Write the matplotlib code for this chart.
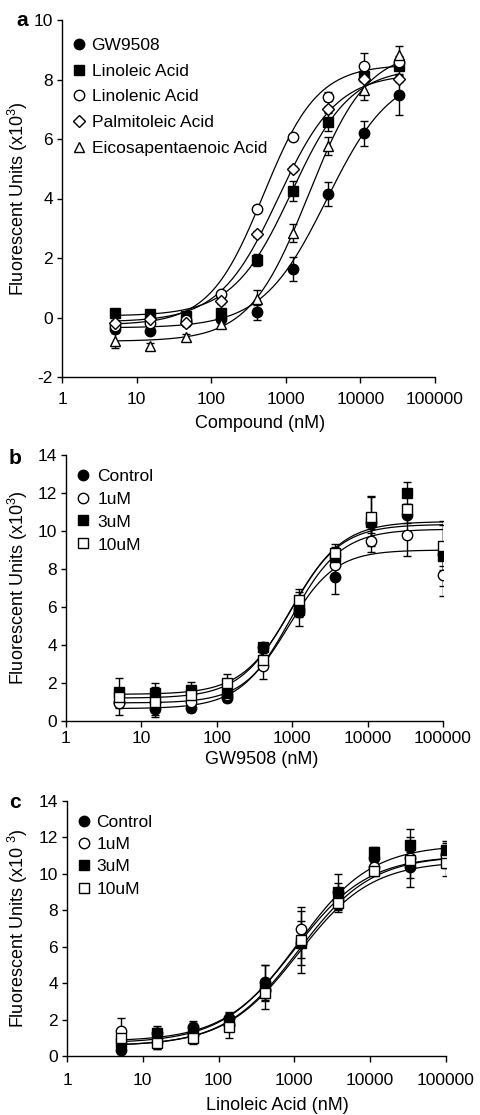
"""Three dose-response panels (a, b, c) with logistic fit curves."""
import matplotlib
matplotlib.use('Agg')
import matplotlib.pyplot as plt
import numpy as np

plt.rcParams['font.family'] = ['Liberation Sans', 'DejaVu Sans']
plt.rcParams['mathtext.fontset'] = 'custom'
plt.rcParams['mathtext.rm'] = 'Liberation Sans'
plt.rcParams['axes.unicode_minus'] = False

# concentrations (nM), 3-fold dilution series
conc_a = [5.1, 15.2, 45.7, 137, 412, 1235, 3704, 11111, 33333]
conc_bc = [5.1, 15.2, 45.7, 137, 412, 1235, 3704, 11111, 33333, 100000]

# ---- panel a ----
labels_a = ['GW9508', 'Linoleic Acid', 'Linolenic Acid', 'Palmitoleic Acid', 'Eicosapentaenoic Acid']
markers_a = ['o', 's', 'o', 'D', '^']
filled_a = [True, True, False, False, False]
gw9508 = [-0.39, -0.45, -0.15, -0.05, 0.17, 1.64, 4.14, 6.19, 7.47]
gw9508_err = [0.1, 0.1, 0.1, 0.1, 0.25, 0.4, 0.4, 0.43, 0.67]
linoleic = [0.15, 0.11, 0.06, 0.15, 1.92, 4.25, 6.57, 8.13, 8.45]
linoleic_err = [0.1, 0.1, 0.1, 0.1, 0.2, 0.35, 0.3, 0.15, 0.25]
linolenic = [-0.3, -0.2, -0.1, 0.78, 3.66, 6.06, 7.42, 8.45, 8.6]
linolenic_err = [0.1, 0.1, 0.1, 0.1, 0.1, 0.1, 0.15, 0.45, 0.2]
palmitoleic = [-0.17, -0.06, -0.17, 0.56, 2.8, 5.0, 7.01, 8.02, 8.02]
palmitoleic_err = [0.1, 0.1, 0.1, 0.1, 0.1, 0.1, 0.1, 0.1, 0.1]
epa = [-0.78, -0.95, -0.67, -0.22, 0.61, 2.85, 5.76, 7.66, 8.84]
epa_err = [0.25, 0.1, 0.1, 0.1, 0.3, 0.3, 0.3, 0.35, 0.3]
# fitted curves: bottom, top, log EC50, hill slope
fit_a = [(-0.35, 8.3, 3.55, 1.0), (0.05, 8.4, 3.08, 1.1), (-0.25, 8.5, 2.7, 1.2),
         (-0.15, 8.2, 2.9, 1.1), (-0.8, 9.0, 3.3, 1.1)]

# ---- panel b (GW9508) ----
labels_bc = ['Control', '1uM', '3uM', '10uM']
markers_bc = ['o', 'o', 's', 's']
filled_bc = [True, False, True, False]
b_control = [1.0, 0.61, 0.67, 1.19, 3.9, 5.75, 7.6, 10.4, 10.84, 8.77]
b_control_err = [0.3, 0.3, 0.2, 0.2, 0.2, 0.3, 0.9, 0.5, 0.4, 0.6]
b_1um = [0.93, 1.0, 1.0, 1.37, 2.9, 5.9, 8.2, 9.5, 9.8, 7.7]
b_1um_err = [0.6, 0.8, 0.4, 0.3, 0.7, 0.9, 0.6, 0.6, 1.1, 1.1]
b_3um = [1.54, 1.5, 1.63, 1.45, 3.9, 5.85, 8.65, 10.5, 12.0, 8.7]
b_3um_err = [0.7, 0.5, 0.4, 0.3, 0.2, 0.3, 0.5, 1.3, 0.6, 1.6]
b_10um = [1.28, 1.0, 1.37, 1.98, 3.2, 6.37, 8.82, 10.75, 11.14, 9.23]
b_10um_err = [0.3, 0.3, 0.3, 0.5, 0.3, 0.6, 0.5, 1.1, 0.3, 1.3]
fit_b = [(0.65, 10.1, 2.98, 1.3), (0.95, 9.0, 2.95, 1.4), (1.4, 10.5, 3.0, 1.3), (1.2, 10.35, 2.97, 1.3)]

# ---- panel c (Linoleic acid) ----
c_control = [0.33, 1.25, 1.6, 2.07, 4.08, 6.2, 9.0, 10.86, 10.4, 11.1]
c_control_err = [0.2, 0.3, 0.3, 0.3, 0.9, 1.2, 0.5, 0.3, 0.6, 0.4]
c_1um = [1.37, 0.79, 1.15, 1.7, 3.6, 6.98, 8.57, 10.4, 10.86, 11.0]
c_1um_err = [0.7, 0.4, 0.3, 0.3, 0.6, 1.0, 0.5, 0.3, 1.6, 0.7]
c_3um = [0.7, 1.25, 1.43, 1.9, 3.8, 6.2, 9.0, 11.2, 11.6, 11.3]
c_3um_err = [0.3, 0.4, 0.4, 0.5, 1.2, 0.8, 1.0, 0.3, 0.4, 0.5]
c_10um = [0.97, 0.7, 0.97, 1.6, 3.48, 6.37, 8.4, 10.16, 10.77, 10.59]
c_10um_err = [0.3, 0.3, 0.3, 0.6, 0.4, 1.8, 0.5, 0.3, 0.5, 0.7]
fit_c = [(0.55, 11.0, 3.05, 0.9), (0.7, 11.0, 3.0, 0.9), (0.8, 11.6, 3.05, 0.9), (0.55, 10.7, 3.05, 0.9)]

FS = 13
TICK_FS = 12.5


def logistic(x, bottom, top, logec50, hill):
    return bottom + (top - bottom) / (1 + 10 ** ((logec50 - np.log10(x)) * hill))


def marker_size(m):
    return {'o': 7.5, 's': 6.8, 'D': 6.0, '^': 7.0}[m]


def draw_panel(ax, conc, series, errors, fits, markers, filled, labels, ylim, yticks, xpad):
    xs = np.logspace(np.log10(conc[0]), np.log10(conc[-1]), 200)
    for fit in fits:
        ax.plot(xs, logistic(xs, *fit), color='black', lw=0.9, zorder=2)
    for y, err, m, f in zip(series, errors, markers, filled):
        ax.errorbar(conc, y, yerr=err, fmt=m, ms=marker_size(m), mfc='black' if f else 'white',
                    mec='black', mew=1.0, ecolor='black', elinewidth=1.0,
                    capsize=3, capthick=1.0, zorder=3)
    ax.set_xscale('log')
    ax.set_xlim(1, 100000)
    ax.set_ylim(*ylim)
    ax.set_yticks(yticks)
    ax.set_xticks([1, 10, 100, 1000, 10000, 100000])
    ax.set_xticklabels(['1', '10', '100', '1000', '10000', '100000'])
    ax.minorticks_off()
    for s in ['top', 'right']:
        ax.spines[s].set_visible(False)
    for s in ['left', 'bottom']:
        ax.spines[s].set_linewidth(1.0)
    ax.tick_params(labelsize=TICK_FS, width=1.0)
    ax.tick_params(axis='x', length=4.5, pad=xpad)
    ax.tick_params(axis='y', length=3.5, pad=3)
    handles = []
    for m, f, lab in zip(markers, filled, labels):
        h, = ax.plot([], [], m, ms=marker_size(m), mfc='black' if f else 'white',
                     mec='black', mew=1.0, label=lab)
        handles.append(h)
    return handles


fig = plt.figure(figsize=(4.8, 11.15), dpi=100)
W, H = 480, 1115


def axes_at(left, top, right, bottom):
    return fig.add_axes([left / W, 1 - bottom / H, (right - left) / W, (bottom - top) / H])


def place_labels(ax, left, top, right, bottom, xlabel, ylabel, xlab_center, xlab_y):
    ax.set_xlabel(xlabel, fontsize=FS)
    ax.set_ylabel(ylabel, fontsize=FS)
    ax.xaxis.set_label_coords((xlab_center - left) / (right - left), (bottom - xlab_y) / (bottom - top))
    ax.xaxis.label.set_va('center')
    ax.yaxis.set_label_coords((18 - left) / (right - left), 0.5)
    ax.yaxis.label.set_va('center')


# panel a
box = (62, 20, 435, 377)
ax_a = axes_at(*box)
h = draw_panel(ax_a, conc_a, [gw9508, linoleic, linolenic, palmitoleic, epa],
               [gw9508_err, linoleic_err, linolenic_err, palmitoleic_err, epa_err],
               fit_a, markers_a, filled_a, labels_a, (-2, 10), [-2, 0, 2, 4, 6, 8, 10], 6.5)
ax_a.legend(handles=h, loc='upper left', bbox_to_anchor=(0.0, 0.985), frameon=False,
            fontsize=12.5, handlelength=0.6, handletextpad=0.4, labelspacing=0.62, borderaxespad=0.3)
place_labels(ax_a, *box, 'Compound (nM)', 'Fluorescent Units (x10$^{3}$)', 260, 423)
fig.text(22 / W, 1 - 20 / H, 'a', fontsize=15, fontweight='bold', va='center', ha='center')

# panel b
box = (66, 455, 443, 721)
ax_b = axes_at(*box)
h = draw_panel(ax_b, conc_bc, [b_control, b_1um, b_3um, b_10um],
               [b_control_err, b_1um_err, b_3um_err, b_10um_err],
               fit_b, markers_bc, filled_bc, labels_bc, (0, 14), [0, 2, 4, 6, 8, 10, 12, 14], 2.5)
ax_b.legend(handles=h, loc='upper left', bbox_to_anchor=(0.0, 0.995), frameon=False,
            fontsize=12.5, handlelength=0.6, handletextpad=0.5, labelspacing=0.45, borderaxespad=0.3)
place_labels(ax_b, *box, 'GW9508 (nM)', 'Fluorescent Units (x10$^{3}$)', 262, 759)
fig.text(15 / W, 1 - 458 / H, 'b', fontsize=15, fontweight='bold', va='center', ha='center')

# panel c
box = (67, 801, 446, 1056)
ax_c = axes_at(*box)
h = draw_panel(ax_c, conc_bc, [c_control, c_1um, c_3um, c_10um],
               [c_control_err, c_1um_err, c_3um_err, c_10um_err],
               fit_c, markers_bc, filled_bc, labels_bc, (0, 14), [0, 2, 4, 6, 8, 10, 12, 14], 8)
ax_c.legend(handles=h, loc='upper left', bbox_to_anchor=(0.0, 0.995), frameon=False,
            fontsize=12.5, handlelength=0.6, handletextpad=0.4, labelspacing=0.42, borderaxespad=0.3)
place_labels(ax_c, *box, 'Linoleic Acid (nM)', 'Fluorescent Units (x10 $^{3}$)', 277, 1105)
fig.text(15 / W, 1 - 802 / H, 'c', fontsize=15, fontweight='bold', va='center', ha='center')

fig.savefig('out.png', dpi=100)
